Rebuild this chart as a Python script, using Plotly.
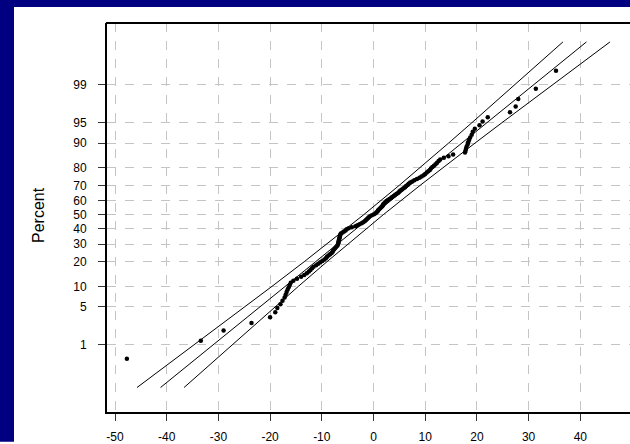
import plotly.graph_objects as go
from statistics import NormalDist

values = [
    -47.7, -33.4, -29.0, -23.6, -20.0, -19.0, -18.6, -18.0, -17.6, -17.2,
    -17.0, -16.8, -16.6, -16.4, -16.2, -16.0, -15.5, -14.8, -14.0, -13.4,
    -12.9, -12.5, -12.2, -11.9, -11.6, -11.1, -10.7, -10.3, -9.9, -9.5,
    -9.2, -9.0, -8.7, -8.4, -8.1, -7.9, -7.8, -7.6, -7.4, -7.2,
    -7.0, -6.9, -6.8, -6.8, -6.7, -6.7, -6.6, -6.6, -6.5, -6.5,
    -6.4, -6.3, -6.0, -5.7, -5.4, -5.2, -4.8, -4.2, -3.5, -3.1,
    -2.7, -2.3, -2.0, -1.7, -1.5, -1.3, -1.1, -0.9, -0.7, -0.3,
    0.1, 0.4, 0.6, 0.8, 0.9, 1.1, 1.3, 1.5, 1.7, 1.8,
    1.9, 2.1, 2.3, 2.5, 2.8, 3.1, 3.4, 3.6, 3.9, 4.2,
    4.5, 4.8, 5.0, 5.2, 5.5, 5.8, 6.1, 6.3, 6.6, 6.8,
    7.1, 7.5, 7.9, 8.4, 8.9, 9.3, 9.7, 10.0, 10.3, 10.6,
    10.9, 11.1, 11.4, 11.7, 12.0, 12.3, 12.6, 12.9, 13.6, 14.5,
    15.4, 17.7, 17.8, 17.9, 18.0, 18.2, 18.3, 18.5, 18.7, 19.0,
    19.2, 19.6, 20.5, 21.1, 22.1, 26.4, 27.5, 28.0, 31.4, 35.3,
]

# fitted line and 95% confidence band, read at these percents
line_pct = [0.1, 1, 5, 10, 20, 30, 50, 70, 80, 90, 95, 99, 99.9]
fit_x = [-41.19, -31.01, -21.93, -17.08, -11.22, -6.99, 0.0,
         6.99, 11.22, 17.08, 21.93, 31.01, 41.19]
lower_x = [-45.74, -34.66, -24.83, -19.64, -13.42, -9.01, -1.89,
           4.97, 9.01, 14.53, 19.02, 27.36, 36.64]
upper_x = [-36.64, -27.36, -19.02, -14.53, -9.01, -4.97, 1.89,
           9.01, 13.42, 19.64, 24.83, 34.66, 45.74]

tick_pct = [1, 5, 10, 20, 30, 40, 50, 60, 70, 80, 90, 95, 99]
x_ticks = list(range(-50, 41, 10))

# ---- probability scale ----
nd = NormalDist()
def probit(p):
    return nd.inv_cdf(p / 100.0)

n = len(values)
pct = [(i - 0.3) / (n + 0.4) * 100 for i in range(1, n + 1)]
pts_z = [probit(p) for p in pct]
line_z = [probit(p) for p in line_pct]

# ---- layout geometry (pixels) ----
W, H = 630, 444
ML, MR, MT, MB = 107, 0, 23, 30
PW, PH = W - ML - MR, H - MT - MB

def px2paper_x(px):
    return (px - ML) / PW

def py2paper_y(py):
    return (H - MB - py) / PH

FONT = "Arial, Liberation Sans, sans-serif"
NAVY = "#000080"

fig = go.Figure()
for xs in (lower_x, fit_x, upper_x):
    fig.add_trace(go.Scatter(x=xs, y=line_z, mode="lines",
                             line=dict(color="black", width=1),
                             hoverinfo="skip", showlegend=False))
fig.add_trace(go.Scatter(x=values, y=pts_z, mode="markers",
                         marker=dict(color="black", size=4.5, symbol="circle"),
                         showlegend=False))

grid = dict(showgrid=True, gridcolor="#c4c4c4", griddash="dash", gridwidth=1,
            zeroline=False, showline=True, linecolor="black", linewidth=2,
            mirror=False,
            ticks="outside", tickcolor="#333333", ticklen=7, tickwidth=1,
            tickfont=dict(family=FONT, size=12, color="black"))

fig.update_xaxes(range=[(ML - 373.5) / 5.17, (W - MR - 373.5) / 5.17],
                 tickvals=x_ticks, ticktext=[str(v) for v in x_ticks],
                 ticklabelstandoff=6, **grid)
fig.update_yaxes(range=[-(H - MB - 215.7) / 56.2, (215.7 - MT) / 56.2],
                 tickvals=[probit(p) for p in tick_pct],
                 ticktext=[str(p) for p in tick_pct],
                 ticklabelstandoff=9, **grid)

shapes = [
    dict(type="rect", xref="paper", yref="paper", layer="below",
         x0=px2paper_x(0), x1=px2paper_x(W), y0=py2paper_y(0), y1=py2paper_y(7),
         fillcolor=NAVY, line=dict(width=0)),
    dict(type="rect", xref="paper", yref="paper", layer="below",
         x0=px2paper_x(0), x1=px2paper_x(14), y0=py2paper_y(H), y1=py2paper_y(0),
         fillcolor=NAVY, line=dict(width=0)),
    # top frame line
    dict(type="line", xref="paper", yref="paper", layer="above",
         x0=px2paper_x(106), x1=px2paper_x(W + 5), y0=1, y1=1,
         line=dict(color="black", width=2)),
]

fig.update_layout(
    width=W, height=H,
    margin=dict(l=ML, r=MR, t=MT, b=MB, pad=0),
    paper_bgcolor="white", plot_bgcolor="white",
    shapes=shapes,
    showlegend=False,
    annotations=[dict(text="Percent", xref="paper", yref="paper",
                      x=px2paper_x(38), y=py2paper_y(216), textangle=-90,
                      showarrow=False, xanchor="center", yanchor="middle",
                      font=dict(family=FONT, size=16, color="black"))],
)

fig.write_html("out.html")
